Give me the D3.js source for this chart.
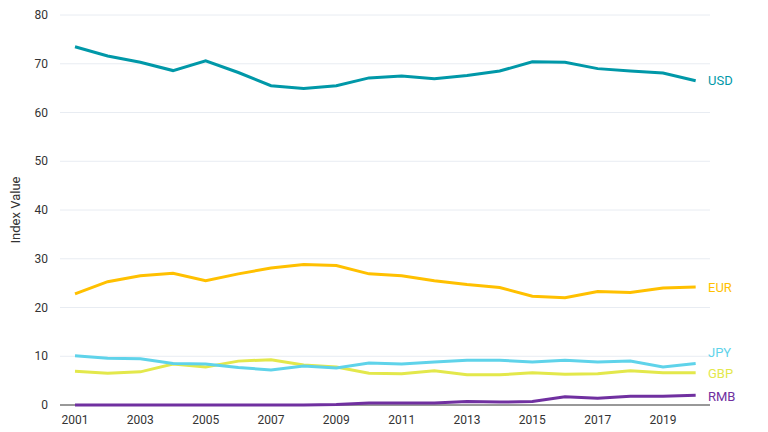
<!DOCTYPE html>
<html><head><meta charset="utf-8">
<script src="https://cdn.jsdelivr.net/npm/d3@7"></script>
<style>body{margin:0;background:#fff}text{font-family:Roboto,sans-serif}</style>
</head><body><svg id="c" width="768" height="432"></svg>
<script>
const years = d3.range(2001, 2021);
const tickYears = [2001,2003,2005,2007,2009,2011,2013,2015,2017,2019];
const yTicks = [0,10,20,30,40,50,60,70,80];
const usd = [73.5,71.6,70.3,68.6,70.6,68.2,65.5,64.9,65.5,67.1,67.5,66.9,67.6,68.5,70.4,70.3,69.0,68.5,68.1,66.5];
const eur = [22.8,25.3,26.5,27.0,25.5,26.9,28.1,28.8,28.6,26.9,26.5,25.5,24.7,24.1,22.3,22.0,23.3,23.1,24.0,24.2];
const jpy = [10.1,9.6,9.5,8.5,8.4,7.7,7.2,8.0,7.6,8.6,8.4,8.8,9.2,9.2,8.8,9.2,8.8,9.0,7.8,8.5];
const gbp = [6.9,6.5,6.8,8.4,7.8,9.0,9.3,8.2,7.8,6.5,6.4,7.0,6.2,6.2,6.6,6.3,6.4,7.0,6.6,6.6];
const rmb = [0,0,0,0,0,0,0,0,0.1,0.4,0.4,0.4,0.7,0.6,0.7,1.7,1.4,1.8,1.8,2.0];
const series = [
 {name:"USD", values:usd, color:"#0098a8", ly:80},
 {name:"EUR", values:eur, color:"#ffc000", ly:287},
 {name:"JPY", values:jpy, color:"#5fd3ea", ly:352},
 {name:"GBP", values:gbp, color:"#e3e84b", ly:373},
 {name:"RMB", values:rmb, color:"#7030a0", ly:396}
];
const svg = d3.select("#c");
const x = d3.scaleLinear().domain([2001,2019]).range([75,663]);
const y = d3.scaleLinear().domain([0,80]).range([405,15]);
const g = svg.append("g");
yTicks.forEach(t=>{
  if(t>0) g.append("line").attr("x1",60).attr("x2",710).attr("y1",y(t)).attr("y2",y(t)).attr("stroke","#e8ecf2");
  g.append("text").attr("x",48).attr("y",y(t)+4).attr("text-anchor","end").attr("font-size",12).attr("fill","#333").text(t);
});
g.append("line").attr("x1",60).attr("x2",710).attr("y1",y(0)).attr("y2",y(0)).attr("stroke","#333");
tickYears.forEach(t=>{
  g.append("text").attr("x",x(t)).attr("y",424).attr("text-anchor","middle").attr("font-size",12).attr("fill","#333").text(t);
});
g.append("text").attr("transform","translate(20,210) rotate(-90)").attr("text-anchor","middle").attr("font-size",13).attr("fill","#333").text("Index Value");
const line = d3.line().x((d,i)=>x(years[i])).y(d=>y(d));
series.slice().reverse().forEach(s=>{
  g.append("path").attr("d",line(s.values)).attr("fill","none").attr("stroke",s.color).attr("stroke-width",3);
});
series.forEach(s=>{
  g.append("text").attr("x",708).attr("y",s.ly+5).attr("font-size",13).attr("fill",s.color).text(s.name);
});
</script></body></html>
